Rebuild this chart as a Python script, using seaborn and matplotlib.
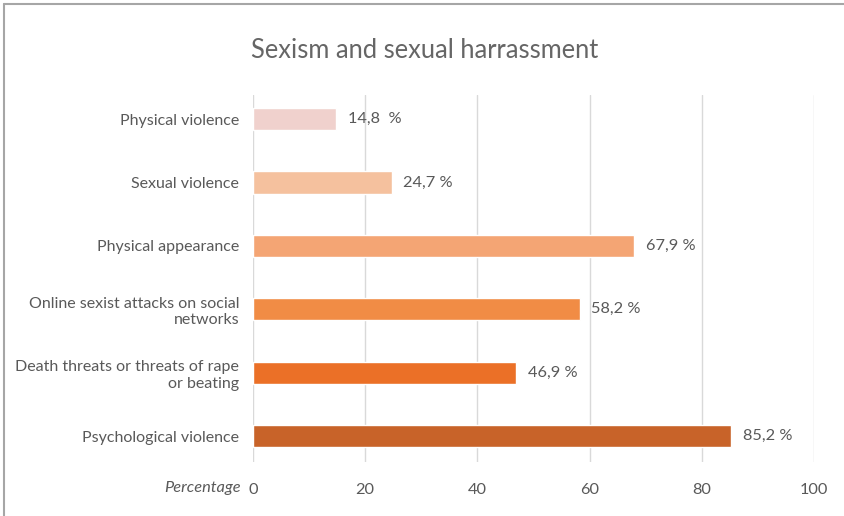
import matplotlib
matplotlib.use("Agg")
import matplotlib.pyplot as plt
import seaborn as sns
import pandas as pd
from matplotlib.lines import Line2D

categories = [
    "Physical violence",
    "Sexual violence",
    "Physical appearance",
    "Online sexist attacks on social\nnetworks",
    "Death threats or threats of rape\nor beating",
    "Psychological violence",
]
values = [14.8, 24.7, 67.9, 58.2, 46.9, 85.2]
value_labels = ["14,8  %", "24,7 %", "67,9 %", "58,2 %", "46,9 %", "85,2 %"]
colors = ["#F0D1CD", "#F5C19E", "#F4A574", "#F18C45", "#EB7027", "#C86329"]
xticks = [0, 20, 40, 60, 80, 100]
title = "Sexism and sexual harrassment"
xlabel = "Percentage"

sns.set_theme(style="white")
plt.rcParams["font.family"] = ["Lato", "DejaVu Sans"]
txt = "#595959"

df = pd.DataFrame({"cat": categories, "val": values})

fig = plt.figure(figsize=(8.44, 5.16), dpi=100)
ax = fig.add_axes([253/844, 1-462/516, (814-253)/844, (462-95)/516])

sns.barplot(data=df, y="cat", x="val", hue="cat", palette=colors, legend=False,
            orient="h", width=0.35, ax=ax, saturation=1)

ax.set_xlim(0, 100)
ax.set_ylim(5.41, -0.38)
ax.set_xticks(xticks)
ax.set_xticklabels([str(t) for t in xticks])
ax.grid(axis="x", color="#D9D9D9", linewidth=1)
ax.set_axisbelow(True)
for s in ax.spines.values():
    s.set_visible(False)
ax.tick_params(axis="x", length=0, pad=15, labelsize=11.8, labelcolor=txt)
ax.tick_params(axis="y", length=0, pad=10, labelsize=11.5, labelcolor=txt)
for lab in ax.get_yticklabels():
    lab.set_linespacing(1.25)
ax.set_xlabel("")
ax.set_ylabel("")

for i, (v, lbl) in enumerate(zip(values, value_labels)):
    ax.annotate(lbl, xy=(v, i), xytext=(8.5, 0), textcoords="offset points",
                va="center", ha="left", fontsize=11.8, color=txt)

fig.text(241/844, 1-488/516, xlabel, ha="right", va="center", fontsize=11.8,
         style="italic", color=txt)
fig.text(425/844, 1-50/516, title, ha="center", va="center", fontsize=18.4, color="#666666")

# outer border (top and left)
fig.add_artist(Line2D([4/844, 1], [1-4/516, 1-4/516], transform=fig.transFigure,
                      color="#A6A6A6", linewidth=1.5))
fig.add_artist(Line2D([4/844, 4/844], [0, 1-4/516], transform=fig.transFigure,
                      color="#A6A6A6", linewidth=1.5))

fig.savefig("out.png", dpi=100)
